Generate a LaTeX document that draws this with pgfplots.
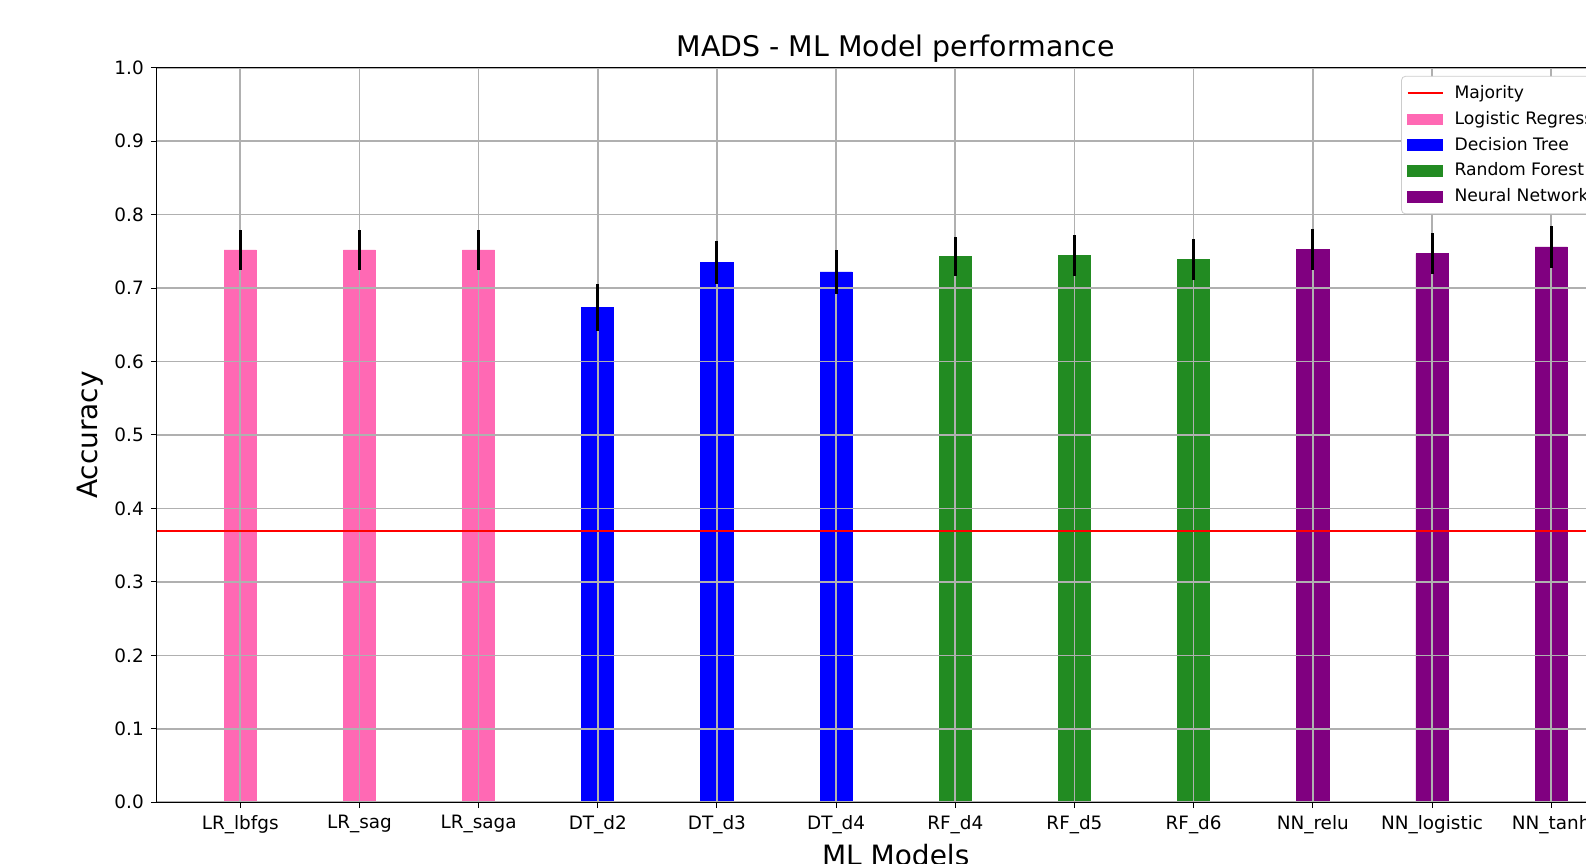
\documentclass[border=0pt]{standalone}
\usepackage{fontspec}
\setmainfont{DejaVu Sans}
\usepackage{pgfplots}
\pgfplotsset{compat=1.18}
\definecolor{lrpink}{HTML}{FF69B4}
\definecolor{dtblue}{HTML}{0000FF}
\definecolor{rfgreen}{HTML}{228B22}
\definecolor{nnpurple}{HTML}{800080}
\definecolor{gridgray}{HTML}{B0B0B0}
\pgfplotsset{
  barleg/.style={legend image code/.code={\fill[##1, sharp corners] (0pt,-2.6pt) rectangle (17.5pt,2.6pt);}},
  lineleg/.style={legend image code/.code={\draw[##1, sharp corners] (0pt,0pt) -- (17.5pt,0pt);}},
  frame/.style={at={(78.4pt,30.4pt)}, anchor=south west,
    scale only axis, width=738.9pt, height=367.2pt,
    xmin=-0.7, xmax=11.7, ymin=0, ymax=1},
}
\begin{document}
\begin{tikzpicture}
\useasboundingbox (0,0) rectangle (793pt,431.5pt);
\clip (0,0) rectangle (793pt,431.5pt);
\begin{axis}[
  frame,
  axis on top,
  xtick={0,...,11},
  xticklabels={LR\_lbfgs,LR\_sag,LR\_saga,DT\_d2,DT\_d3,DT\_d4,RF\_d4,RF\_d5,RF\_d6,NN\_relu,NN\_logistic,NN\_tanh},
  ytick={0,0.1,...,1.0},
  yticklabel style={/pgf/number format/fixed,/pgf/number format/fixed zerofill,/pgf/number format/precision=1},
  /pgf/number format/assume math mode=true,
  tick label style={font=\fontsize{9.2}{11}\selectfont},
  tick align=outside, major tick length=3pt,
  tick style={black, line width=0.5pt},
  xtick pos=bottom, ytick pos=left,
  grid=major, major grid style={gridgray, line width=0.8pt},
  axis line style={black, line width=0.6pt},
  title={MADS - ML Model performance},
  title style={font=\fontsize{14.2}{16}\selectfont, yshift=-7pt},
  xlabel={ML Models}, ylabel={Accuracy},
  label style={font=\fontsize{14}{16}\selectfont},
  xlabel style={yshift=1.5pt},
  ylabel style={yshift=-1.5pt},
  legend style={at={(0.842,0.989)}, anchor=north west, font=\fontsize{8.6}{10}\selectfont,
    draw=gray!40, rounded corners=2pt, row sep=0.9pt, column sep=3.5pt, inner sep=2.5pt},
  legend cell align=left,
]
\addlegendimage{red, line width=1pt, lineleg}
\addlegendentry{Majority}
\addplot[ybar, bar width=0.27, bar shift=0pt, fill=lrpink, draw=lrpink, barleg]
  coordinates {(0,0.752) (1,0.752) (2,0.752)};
\addlegendentry{Logistic Regression}
\addplot[ybar, bar width=0.27, bar shift=0pt, fill=dtblue, draw=dtblue, barleg]
  coordinates {(3,0.674) (4,0.735) (5,0.722)};
\addlegendentry{Decision Tree}
\addplot[ybar, bar width=0.27, bar shift=0pt, fill=rfgreen, draw=rfgreen, barleg]
  coordinates {(6,0.743) (7,0.744) (8,0.739)};
\addlegendentry{Random Forest}
\addplot[ybar, bar width=0.27, bar shift=0pt, fill=nnpurple, draw=nnpurple, barleg]
  coordinates {(9,0.753) (10,0.747) (11,0.756)};
\addlegendentry{Neural Network}
\end{axis}
\begin{axis}[frame, hide axis]
\addplot[red, line width=1pt] coordinates {(-0.7,0.369) (11.7,0.369)};
\addplot[draw=none, no markers, error bars/.cd, y dir=both, y explicit, error mark=none,
  error bar style={black, line width=1.5pt}] coordinates {
  (0,0.752) +- (0,0.027) (1,0.752) +- (0,0.027) (2,0.752) +- (0,0.027)
  (3,0.674) +- (0,0.032) (4,0.735) +- (0,0.029) (5,0.722) +- (0,0.030)
  (6,0.743) +- (0,0.027) (7,0.744) +- (0,0.028) (8,0.739) +- (0,0.028)
  (9,0.753) +- (0,0.028) (10,0.747) +- (0,0.028) (11,0.756) +- (0,0.029)};
\end{axis}
\end{tikzpicture}
\end{document}
